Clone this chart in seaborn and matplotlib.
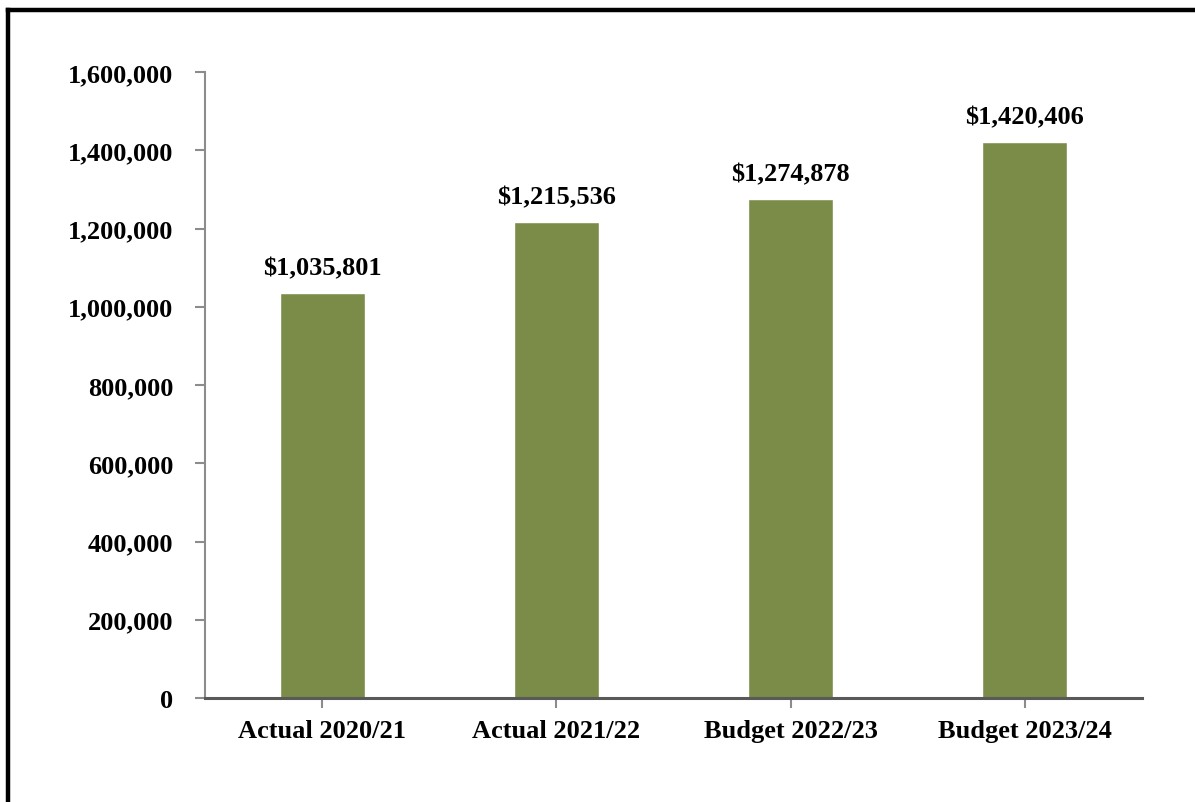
import matplotlib
matplotlib.use("Agg")
import matplotlib.pyplot as plt
from matplotlib.lines import Line2D
from matplotlib.ticker import FuncFormatter
import seaborn as sns
import pandas as pd

categories = ["Actual 2020/21", "Actual 2021/22", "Budget 2022/23", "Budget 2023/24"]
values = [1035801, 1215536, 1274878, 1420406]
y_ticks = [0, 200000, 400000, 600000, 800000, 1000000, 1200000, 1400000, 1600000]

sns.set_theme(style="white")
plt.rcParams["font.family"] = ["Liberation Serif", "DejaVu Serif"]
plt.rcParams["font.weight"] = "bold"

df = pd.DataFrame({"category": categories, "value": values})

fig = plt.figure(figsize=(11.95, 8.03), dpi=100)
ax = fig.add_axes([205 / 1195, 1 - 699 / 803, (1142 - 205) / 1195, (699 - 73) / 803])

sns.barplot(data=df, x="category", y="value", color="#7A8C48", width=0.363,
            saturation=1, ax=ax)

ax.set_ylim(0, 1600000)
ax.set_yticks(y_ticks)
ax.yaxis.set_major_formatter(FuncFormatter(lambda v, p: f"{int(v):,}"))
ax.set_xlabel("")
ax.set_ylabel("")

for s in ["top", "right"]:
    ax.spines[s].set_visible(False)
ax.spines["left"].set_color("#8C8C8C")
ax.spines["left"].set_linewidth(1.5)
ax.spines["bottom"].set_color("#595959")
ax.spines["bottom"].set_linewidth(2.2)

ax.tick_params(axis="y", which="major", left=True, length=7, width=1.5,
               color="#8C8C8C", pad=16, labelsize=19)
ax.tick_params(axis="x", which="major", bottom=True, length=7, width=1.5,
               color="#8C8C8C", pad=8, labelsize=19)
for lab in ax.get_xticklabels() + ax.get_yticklabels():
    lab.set_fontweight("bold")
    lab.set_color("black")

for i, v in enumerate(values):
    ax.annotate(f"${v:,}", xy=(i, v), xytext=(0, 10), textcoords="offset points",
                ha="center", va="bottom", fontsize=19, fontweight="bold", color="black")

# frame lines along the top and left edges
fig.add_artist(Line2D([8 / 1195, 1.0], [1 - 10.5 / 803, 1 - 10.5 / 803],
                      transform=fig.transFigure, color="black", linewidth=3.2,
                      solid_capstyle="projecting"))
fig.add_artist(Line2D([8 / 1195, 8 / 1195], [0.0, 1 - 10.5 / 803],
                      transform=fig.transFigure, color="black", linewidth=3.2,
                      solid_capstyle="projecting"))

fig.savefig("out.png", dpi=100, facecolor="white")
